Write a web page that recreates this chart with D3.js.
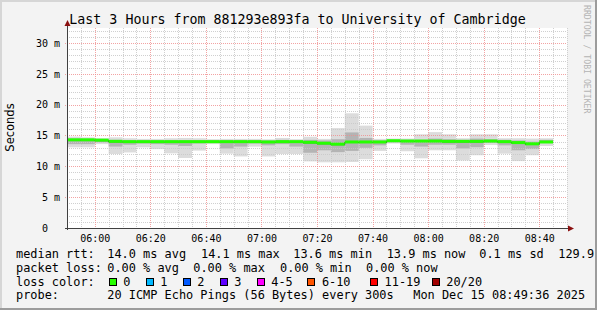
<!DOCTYPE html>
<html>
<head>
<meta charset="utf-8">
<script src="https://cdn.jsdelivr.net/npm/d3@7"></script>
<style>
  body { margin: 0; background: #f3f3f3; }
  svg text { font-family: "DejaVu Sans Mono", monospace; }
  .leg { font-size: 11.9px; fill: #000; white-space: pre; }
</style>
</head>
<body>
<svg width="597" height="310"></svg>
<script>
// 5 minute steps, 05:50 .. 08:45 (one entry per smokeping step)
var firstStep = new Date(2025, 11, 15, 5, 50);
var stepMin = 5;

// median rtt per step, ms
var medianRtt = [14.3, 14.3, 14.25, 14.05, 14.0, 14.0, 14.0, 14.0, 14.0, 14.0,
                 14.0, 14.0, 14.0, 14.0, 13.95, 14.0, 14.0, 13.9, 13.75, 13.6,
                 13.95, 13.95, 13.95, 14.15, 14.1, 14.1, 14.1, 14.05, 14.05, 14.05,
                 14.1, 14.0, 13.85, 13.65, 13.95];
// smoke: slowest / fastest ping per step, ms
var pingMax = [14.82, 14.7, 14.55, 14.7, 14.55, 14.45, 14.45, 14.55, 14.6, 14.55,
               14.4, 14.45, 14.45, 14.45, 14.38, 14.6, 14.4, 14.8, 14.45, 16.2,
               18.6, 16.6, 14.45, 14.5, 14.5, 15.2, 15.55, 15.2, 14.55, 15.2,
               15.2, 14.55, 14.55, 14.5, 14.55];
var pingMin = [13.08, 13.08, 13.6, 12.0, 12.25, 13.08, 12.8, 12.1, 11.35, 12.55,
               13.6, 12.05, 11.6, 13.2, 11.6, 12.0, 12.0, 10.8, 10.65, 10.65,
               10.7, 11.15, 12.5, 13.7, 12.45, 11.3, 12.6, 12.6, 10.95, 11.8,
               13.45, 12.05, 10.85, 11.8, 13.3];
// inner smoke band (middle pings), ms
var pingUpper = [14.5, 14.45, 14.4, 14.3, 14.2, 14.2, 14.2, 14.2, 14.2, 14.2,
                 14.2, 14.2, 14.2, 14.2, 14.2, 14.3, 14.15, 14.3, 14.2, 14.4,
                 15.5, 14.6, 14.2, 14.3, 14.3, 14.3, 14.5, 14.4, 14.3, 14.5,
                 14.4, 14.3, 14.2, 14.0, 14.3];
var pingLower = [13.6, 13.6, 13.9, 13.2, 13.5, 13.7, 13.6, 13.5, 13.3, 13.7,
                 13.8, 12.9, 13.2, 13.7, 13.4, 13.6, 13.2, 12.2, 12.6, 12.3,
                 12.5, 13.0, 13.4, 13.9, 13.5, 13.2, 13.5, 13.5, 12.9, 13.1,
                 13.8, 13.4, 12.6, 12.8, 13.8];

var yTicks = [0, 5, 10, 15, 20, 25, 30];
var titleText = "Last 3 Hours from 881293e893fa to University of Cambridge";
var medianStats = ["14.0 ms avg", "14.1 ms max", "13.6 ms min", "13.9 ms now", "0.1 ms sd", "129.9"];
var lossStats = ["0.00 % avg", "0.00 % max", "0.00 % min", "0.00 % now"];
var lossNames = ["0", "1", "2", "3", "4-5", "6-10", "11-19", "20/20"];
var lossColors = ["#26ff00", "#00b8ff", "#0059ff", "#5e00ff", "#ff00ff", "#ff5500", "#ff0000", "#a10000"];
var probeText = "20 ICMP Echo Pings (56 Bytes) every 300s";
var stampText = "Mon Dec 15 08:49:36 2025";

// legend layout
var medianX = [107.3, 201, 293.3, 386.7, 479.3, 558.3];
var lossX = [107.3, 193.3, 280, 366];
var boxX = [108.7, 145.7, 182.7, 219.7, 256.7, 307.3, 370, 431.7];

var svg = d3.select("svg");
var W = 597, H = 310;
var pL = 67, pR = 567, pT = 28, pB = 228;

// background + 3d frame
svg.append("rect").attr("width", W).attr("height", H).attr("fill", "#f3f3f3");
svg.append("rect").attr("x", 0).attr("y", 0).attr("width", W).attr("height", 2).attr("fill", "#d6d6d6");
svg.append("rect").attr("x", 0).attr("y", 0).attr("width", 2).attr("height", H).attr("fill", "#d6d6d6");
svg.append("rect").attr("x", 0).attr("y", H - 2).attr("width", W).attr("height", 2).attr("fill", "#9c9c9c");
svg.append("rect").attr("x", W - 2).attr("y", 0).attr("width", 2).attr("height", H).attr("fill", "#9c9c9c");

svg.append("rect").attr("x", pL).attr("y", pT)
  .attr("width", pR - pL).attr("height", pB - pT).attr("fill", "#fff");

var endTime = d3.timeMinute.offset(firstStep, 180);
var x = d3.scaleTime().domain([firstStep, endTime]).range([pL, pR]);
var y = d3.scaleLinear().domain([0, 32.43]).range([pB, pT]);

var steps = medianRtt.map(function(m, i) {
  var t0 = d3.timeMinute.offset(firstStep, i * stepMin);
  return { t0: t0, t1: d3.timeMinute.offset(t0, stepMin), med: m,
           hi: pingMax[i], lo: pingMin[i], up: pingUpper[i], dn: pingLower[i] };
});

var plot = svg.append("g");

// smoke
plot.selectAll("rect.outer").data(steps).enter().append("rect")
  .attr("class", "outer")
  .attr("x", function(d) { return x(d.t0); })
  .attr("width", function(d) { return x(d.t1) - x(d.t0); })
  .attr("y", function(d) { return y(d.hi); })
  .attr("height", function(d) { return y(d.lo) - y(d.hi); })
  .attr("fill", "#dcdcdc");

plot.selectAll("rect.inner").data(steps).enter().append("rect")
  .attr("class", "inner")
  .attr("x", function(d) { return x(d.t0); })
  .attr("width", function(d) { return x(d.t1) - x(d.t0); })
  .attr("y", function(d) { return y(d.up); })
  .attr("height", function(d) { return y(d.dn) - y(d.up); })
  .attr("fill", "#b4b4b4");

// grid
var grid = svg.append("g").attr("shape-rendering", "crispEdges");
var minorT = d3.timeMinute.every(5).range(firstStep, d3.timeMinute.offset(endTime, 1));
var majorT = d3.timeMinute.every(20).range(firstStep, d3.timeMinute.offset(endTime, 1));
grid.selectAll("line.vmin").data(minorT.filter(function(t) { return t.getMinutes() % 20 !== 0 && +t > +firstStep; }))
  .enter().append("line")
  .attr("x1", function(d) { return Math.round(x(d)) + 0.5; })
  .attr("x2", function(d) { return Math.round(x(d)) + 0.5; })
  .attr("y1", pT).attr("y2", pB)
  .attr("stroke", "#c8c8c8").attr("stroke-dasharray", "1,1").attr("stroke-opacity", 0.85);
var yMinor = d3.range(1, 33).filter(function(v) { return v % 5 !== 0; });
grid.selectAll("line.hmin").data(yMinor).enter().append("line")
  .attr("x1", pL).attr("x2", pR)
  .attr("y1", function(d) { return Math.round(y(d)) + 0.5; })
  .attr("y2", function(d) { return Math.round(y(d)) + 0.5; })
  .attr("stroke", "#c8c8c8").attr("stroke-dasharray", "1,1").attr("stroke-opacity", 0.85);
grid.selectAll("line.vmaj").data(majorT).enter().append("line")
  .attr("x1", function(d) { return Math.round(x(d)) + 0.5; })
  .attr("x2", function(d) { return Math.round(x(d)) + 0.5; })
  .attr("y1", pT).attr("y2", pB + 2)
  .attr("stroke", "#f08c8c").attr("stroke-dasharray", "1,1").attr("stroke-opacity", 0.8);
grid.selectAll("line.hmaj").data(yTicks.slice(1)).enter().append("line")
  .attr("x1", pL - 2).attr("x2", pR)
  .attr("y1", function(d) { return Math.round(y(d)) + 0.5; })
  .attr("y2", function(d) { return Math.round(y(d)) + 0.5; })
  .attr("stroke", "#f08c8c").attr("stroke-dasharray", "1,1").attr("stroke-opacity", 0.8);

// median: dark step line with loss-coloured band on top
var pts = steps.map(function(d) { return [d.t0, d.med]; });
pts.push([steps[steps.length - 1].t1, steps[steps.length - 1].med]);
svg.append("path")
  .attr("d", d3.line().curve(d3.curveStepAfter)
    .x(function(d) { return x(d[0]); }).y(function(d) { return y(d[1]) + 0.5; })(pts))
  .attr("fill", "none").attr("stroke", "#202020").attr("stroke-width", 1);
svg.selectAll("rect.med").data(steps).enter().append("rect")
  .attr("x", function(d) { return x(d.t0); })
  .attr("width", function(d) { return x(d.t1) - x(d.t0); })
  .attr("y", function(d) { return y(d.med) - 1.5; })
  .attr("height", 3)
  .attr("fill", lossColors[0]);

// axes
var xAxis = d3.axisBottom(x).ticks(d3.timeMinute.every(20))
  .tickFormat(d3.timeFormat("%H:%M")).tickSize(0).tickPadding(7);
var gx = svg.append("g").attr("transform", "translate(0," + pB + ")").call(xAxis);
gx.select(".domain").remove();
gx.selectAll("text").attr("font-size", "10px").attr("font-family", "DejaVu Sans Mono").attr("fill", "#000");

var yAxis = d3.axisLeft(y).tickValues(yTicks)
  .tickFormat(function(d) { return d === 0 ? "0\u00a0\u00a0" : d + " m"; })
  .tickSize(0).tickPadding(7);
var gy = svg.append("g").attr("transform", "translate(" + pL + ",0)").call(yAxis);
gy.select(".domain").remove();
gy.selectAll("text").attr("font-size", "10px").attr("font-family", "DejaVu Sans Mono").attr("fill", "#000");

svg.append("line").attr("x1", pL - 2).attr("x2", pR + 2).attr("y1", pB + 0.5).attr("y2", pB + 0.5)
  .attr("stroke", "#404040").attr("shape-rendering", "crispEdges");
svg.append("line").attr("x1", pL + 0.5).attr("x2", pL + 0.5).attr("y1", pB + 2).attr("y2", pT - 3)
  .attr("stroke", "#404040").attr("shape-rendering", "crispEdges");
svg.append("path").attr("d", "M" + (pR + 1) + "," + (pB - 2.5) + "L" + (pR + 7) + "," + (pB + 0.5) + "L" + (pR + 1) + "," + (pB + 3.5) + "Z")
  .attr("fill", "#8b1010");
svg.append("path").attr("d", "M" + (pL - 2.5) + "," + (pT - 2) + "L" + (pL + 0.5) + "," + (pT - 8) + "L" + (pL + 3.5) + "," + (pT - 2) + "Z")
  .attr("fill", "#8b1010");

// titles
svg.append("text").attr("x", 297.5).attr("y", 24).attr("text-anchor", "middle")
  .attr("font-size", "13.3px").attr("fill", "#000").text(titleText);
svg.append("text").attr("transform", "translate(14,127.5) rotate(-90)").attr("text-anchor", "middle")
  .style("font-family", "'DejaVu Sans', sans-serif").attr("font-size", "11.5px").attr("fill", "#000").text("Seconds");
svg.append("text").attr("transform", "translate(584,5) rotate(90)")
  .attr("font-size", "8.2px").attr("fill", "#b4b4b4").text("RRDTOOL / TOBI OETIKER");

// legend
var rows = [258, 272, 285.7, 299.3];
svg.append("text").attr("class", "leg").attr("x", 16).attr("y", rows[0]).text("median rtt:");
svg.selectAll("text.ms").data(medianStats).enter().append("text").attr("class", "leg")
  .attr("x", function(d, i) { return medianX[i]; }).attr("y", rows[0]).text(function(d) { return d; });
svg.append("text").attr("class", "leg").attr("x", 16).attr("y", rows[1]).text("packet loss:");
svg.selectAll("text.ls").data(lossStats).enter().append("text").attr("class", "leg")
  .attr("x", function(d, i) { return lossX[i]; }).attr("y", rows[1]).text(function(d) { return d; });
svg.append("text").attr("class", "leg").attr("x", 16).attr("y", rows[2]).text("loss color:");
var lg = svg.selectAll("g.lc").data(lossNames).enter().append("g")
  .attr("transform", function(d, i) { return "translate(" + boxX[i] + "," + (rows[2] - 8) + ")"; });
lg.append("rect").attr("x", 0.5).attr("y", 0.5).attr("width", 7).attr("height", 7)
  .attr("fill", function(d, i) { return lossColors[i]; }).attr("stroke", "#000").attr("shape-rendering", "crispEdges");
lg.append("text").attr("class", "leg").attr("x", 14.6).attr("y", 8).text(function(d) { return d; });
svg.append("text").attr("class", "leg").attr("x", 16).attr("y", rows[3]).text("probe:");
svg.append("text").attr("class", "leg").attr("x", 107.3).attr("y", rows[3]).text(probeText);
svg.append("text").attr("class", "leg").attr("x", 413.3).attr("y", rows[3]).text(stampText);
</script>
</body>
</html>
